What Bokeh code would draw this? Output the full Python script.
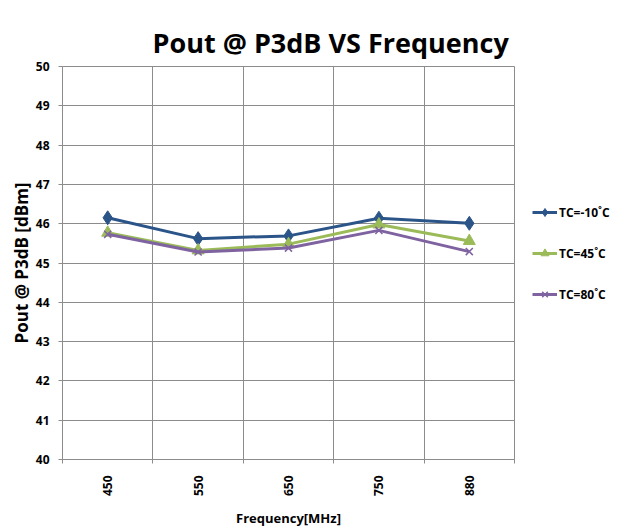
import numpy as np
from bokeh.plotting import figure
from bokeh.models import FixedTicker, Legend, LegendItem, Range1d
from bokeh.embed import file_html
from bokeh.resources import INLINE

# ---- data ----
categories = ["450", "550", "650", "750", "880"]
tc_m10 = [46.15, 45.62, 45.69, 46.14, 46.01]
tc_45 = [45.77, 45.32, 45.48, 45.98, 45.56]
tc_80 = [45.73, 45.28, 45.38, 45.83, 45.29]
y_ticks = [40, 41, 42, 43, 44, 45, 46, 47, 48, 49, 50]
series_names = ["TC=-10˚C", "TC=45˚C", "TC=80˚C"]
series_values = [tc_m10, tc_45, tc_80]

# ---- styles ----
colors = ["#2B5589", "#9BBB59", "#7F63A1"]
markers = ["diamond", "triangle", "x"]
marker_sizes = [14, 12, 10]
FONT = "Open Sans"
GRID = "#8c8c8c"

xs = list(range(1, len(categories) + 1))
bounds = [x - 0.5 for x in xs] + [xs[-1] + 0.5]

p = figure(frame_width=452, frame_height=393, output_backend="svg", toolbar_location=None,
           x_range=Range1d(bounds[0], bounds[-1]), y_range=Range1d(y_ticks[0], y_ticks[-1]),
           min_border_left=62, min_border_right=110, min_border_top=66, min_border_bottom=68,
           background_fill_color="white", border_fill_color="white")

p.title.text = "Pout @ P3dB VS Frequency"
p.title.text_font = FONT
p.title.text_font_size = "27px"
p.title.text_font_style = "bold"
p.title.align = "left"
p.title.offset = 90
p.title.standoff = 12
p.title.text_color = "black"

p.outline_line_color = GRID

# y axis
p.yaxis.ticker = FixedTicker(ticks=y_ticks)
p.yaxis.axis_line_color = GRID
p.yaxis.major_tick_line_color = GRID
p.yaxis.major_tick_out = 4
p.yaxis.major_tick_in = 0
p.yaxis.minor_tick_line_color = None
p.yaxis.major_label_standoff = 9
p.yaxis.major_label_text_font = FONT
p.yaxis.major_label_text_font_style = "bold"
p.yaxis.major_label_text_font_size = "12px"
p.yaxis.major_label_text_color = "black"
p.yaxis.axis_label = "Pout @ P3dB [dBm]"
p.yaxis.axis_label_text_font = FONT
p.yaxis.axis_label_text_font_style = "bold"
p.yaxis.axis_label_text_font_size = "17px"
p.yaxis.axis_label_standoff = 0
p.yaxis.axis_label_text_color = "black"

# x axis
p.xaxis.ticker = FixedTicker(ticks=xs, minor_ticks=bounds)
p.xaxis.major_label_overrides = {x: c for x, c in zip(xs, categories)}
p.xaxis.major_label_orientation = np.pi / 2
p.xaxis.axis_line_color = GRID
p.xaxis.major_tick_line_color = None
p.xaxis.minor_tick_line_color = GRID
p.xaxis.minor_tick_out = 4
p.xaxis.minor_tick_in = 0
p.xaxis.major_label_standoff = 10
p.xaxis.major_label_text_font = FONT
p.xaxis.major_label_text_font_style = "bold"
p.xaxis.major_label_text_font_size = "12px"
p.xaxis.major_label_text_color = "black"
p.xaxis.axis_label = "Frequency[MHz]"
p.xaxis.axis_label_text_font = FONT
p.xaxis.axis_label_text_font_style = "bold"
p.xaxis.axis_label_text_font_size = "13px"
p.xaxis.axis_label_standoff = 10
p.xaxis.axis_label_text_color = "black"

# grids
p.xgrid.ticker = FixedTicker(ticks=bounds)
p.xgrid.grid_line_color = GRID
p.ygrid.grid_line_color = GRID

items = []
for name, vals, c, m, s in zip(series_names, series_values, colors, markers, marker_sizes):
    lr = p.line(xs, vals, line_color=c, line_width=3)
    if m == "x":
        sr = p.scatter(xs, vals, marker=m, size=s, line_color=c, line_width=1.5)
    else:
        sr = p.scatter(xs, vals, marker=m, size=s, fill_color=c, line_color=c)
    items.append(LegendItem(label=name, renderers=[lr, sr]))

legend = Legend(items=items, location="top_left", orientation="vertical",
                title=" ", title_text_font_size="1px", title_standoff=117,
                glyph_width=25, glyph_height=20, label_height=20, spacing=21,
                label_standoff=2, padding=0, margin=18,
                border_line_color=None, background_fill_alpha=0,
                label_text_font=FONT, label_text_font_style="bold",
                label_text_font_size="12px", label_text_color="black")
p.add_layout(legend, "right")

open("out.html", "w").write(file_html(p, INLINE))
